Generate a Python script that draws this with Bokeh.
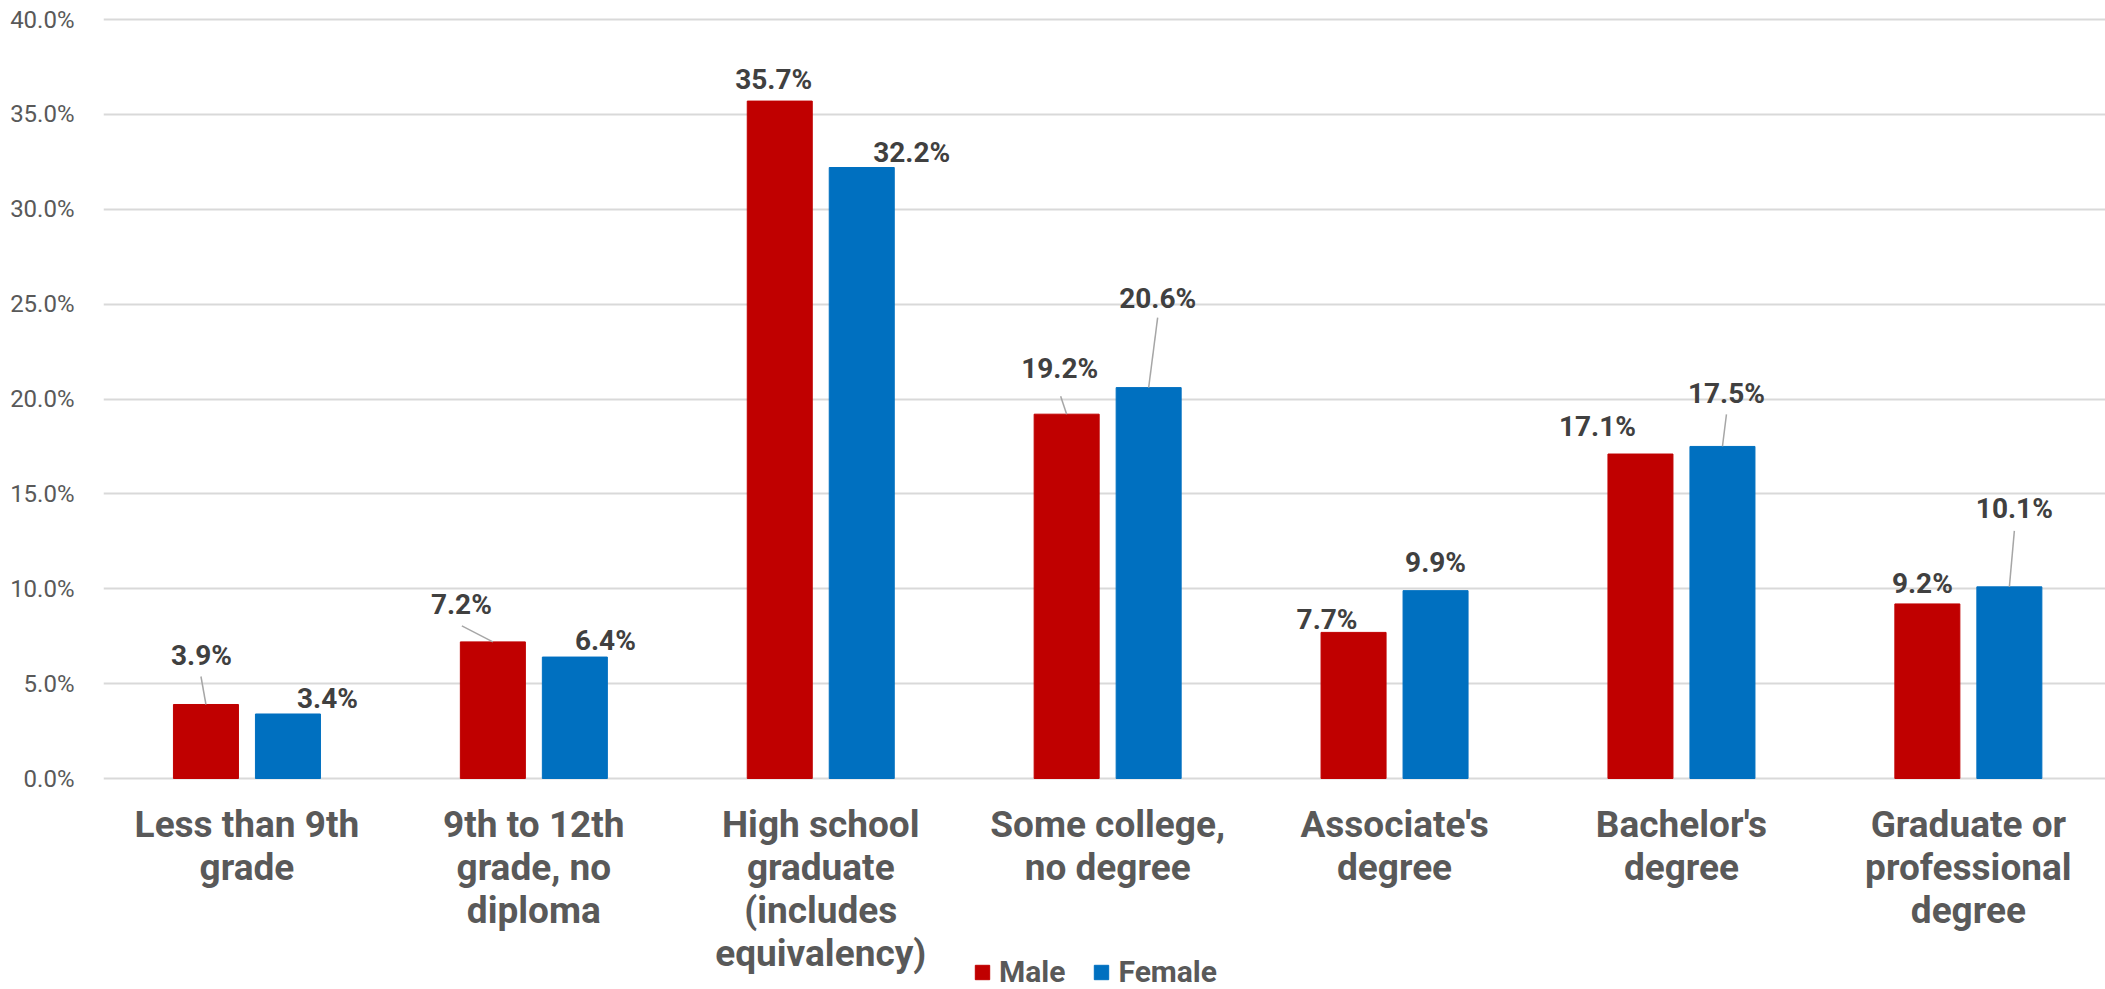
from bokeh.plotting import figure
from bokeh.models import (ColumnDataSource, FixedTicker, PrintfTickFormatter, Range1d,
                          Legend, LegendItem, LabelSet)
from bokeh.embed import file_html
from bokeh.resources import INLINE
from bokeh.core.properties import value

# ---------------- data ----------------
categories = ["Less than 9th grade", "9th to 12th grade, no diploma",
              "High school graduate (includes equivalency)", "Some college, no degree",
              "Associate's degree", "Bachelor's degree", "Graduate or professional degree"]
tick_labels = ["Less than 9th\ngrade", "9th to 12th\ngrade, no\ndiploma",
               "High school\ngraduate\n(includes\nequivalency)", "Some college,\nno degree",
               "Associate's\ndegree", "Bachelor's\ndegree", "Graduate or\nprofessional\ndegree"]
male = [3.9, 7.2, 35.7, 19.2, 7.7, 17.1, 9.2]
female = [3.4, 6.4, 32.2, 20.6, 9.9, 17.5, 10.1]
y_ticks = [0, 5, 10, 15, 20, 25, 30, 35, 40]

# ---------------- style / label placement (screen px) ----------------
W, H = 2105, 989
LEFT = 103
ZERO_PX = 778          # screen y of the 0% line
PX_PER_PCT = 18.975
X_END = 6.978
Y_END = ZERO_PX / PX_PER_PCT
Y_START = -(H - ZERO_PX) / PX_PER_PCT
BAR_W = 0.2266
OFFS = 0.1429
px_x = (W - LEFT) / X_END
px_y = PX_PER_PCT

male_dx = [-4.5, -31.5, -6, -7, -26.5, -43, -5]
male_dy = [-39, -28, -12.5, -36, -3, -18.5, -11]
female_dx = [39.5, 30.5, 50, 9, 0, 4, 5]
female_dy = [-6, -7, -6, -80, -18.5, -43, -68.6]
# leader line start points relative to bar top (px); None = no leader
male_lead = [(-5, -28), (-31, -16), None, (-6, -18), None, None, None]
female_lead = [None, None, None, (9, -70), None, (4, -32), (5, -56)]

RED, BLUE = "#C00000", "#0070C0"
FONT = "Roboto"

xc = [i + 0.5 for i in range(len(categories))]
xm = [x - OFFS for x in xc]
xf = [x + OFFS for x in xc]

p = figure(width=W, height=H, output_backend="svg", toolbar_location=None,
           x_range=Range1d(0, X_END), y_range=Range1d(Y_START, Y_END),
           min_border_left=LEFT, min_border_right=0, min_border_top=0,
           min_border_bottom=0)
p.outline_line_color = None
p.background_fill_color = "white"
p.border_fill_color = "white"

src_m = ColumnDataSource(dict(x=xm, top=male, label=[f"{v:.1f}%" for v in male],
                              dx=male_dx, dy=[-d for d in male_dy]))
src_f = ColumnDataSource(dict(x=xf, top=female, label=[f"{v:.1f}%" for v in female],
                              dx=female_dx, dy=[-d for d in female_dy]))

rm = p.vbar(x="x", top="top", width=BAR_W, bottom=0, source=src_m,
            fill_color=RED, line_color=RED, line_width=1)
rf = p.vbar(x="x", top="top", width=BAR_W, bottom=0, source=src_f,
            fill_color=BLUE, line_color=BLUE, line_width=1)

# leader lines
x0, y0, x1, y1 = [], [], [], []
for xs, vals, leads in ((xm, male, male_lead), (xf, female, female_lead)):
    for x, v, ld in zip(xs, vals, leads):
        if ld is None:
            continue
        x0.append(x + ld[0] / px_x)
        y0.append(v - ld[1] / px_y)
        x1.append(x)
        y1.append(v)
p.segment(x0=x0, y0=y0, x1=x1, y1=y1, line_color="#A6A6A6", line_width=1.5)

for src in (src_m, src_f):
    p.add_layout(LabelSet(x="x", y="top", text="label", x_offset="dx", y_offset="dy",
                          source=src, text_align="center", text_baseline="alphabetic",
                          text_font=value(FONT), text_font_style="bold",
                          text_font_size="28px", text_color="#404040"))

# axes
p.yaxis.ticker = FixedTicker(ticks=y_ticks)
p.yaxis.formatter = PrintfTickFormatter(format="%.1f%%")
p.yaxis.axis_line_color = None
p.yaxis.major_tick_line_color = None
p.yaxis.minor_tick_line_color = None
p.yaxis.major_label_standoff = 23
p.yaxis.major_label_text_font = FONT
p.yaxis.major_label_text_font_size = "24px"
p.yaxis.major_label_text_color = "#595959"

p.xaxis.fixed_location = 0
p.xaxis.ticker = FixedTicker(ticks=xc)
p.xaxis.major_label_overrides = {x: t for x, t in zip(xc, tick_labels)}
p.xaxis.axis_line_color = None
p.xaxis.major_tick_line_color = None
p.xaxis.minor_tick_line_color = None
p.xaxis.major_label_standoff = 18
p.xaxis.major_label_text_font = FONT
p.xaxis.major_label_text_font_style = "bold"
p.xaxis.major_label_text_font_size = "37px"
p.xaxis.major_label_text_color = "#595959"
p.xaxis.major_label_text_line_height = 1.0

p.xgrid.grid_line_color = None
p.ygrid.ticker = FixedTicker(ticks=y_ticks)
p.ygrid.grid_line_color = "#D9D9D9"
p.ygrid.grid_line_width = 2

legend = Legend(items=[LegendItem(label="Male", renderers=[rm]),
                       LegendItem(label="Female", renderers=[rf])],
                orientation="horizontal", location=(870, 0),
                glyph_width=18, glyph_height=18, label_standoff=8, spacing=27,
                padding=0, margin=0, border_line_color=None,
                background_fill_alpha=0,
                label_text_font=FONT, label_text_font_style="bold",
                label_text_font_size="30px", label_text_color="#595959")
p.add_layout(legend)

open("out.html", "w").write(file_html(p, INLINE))
